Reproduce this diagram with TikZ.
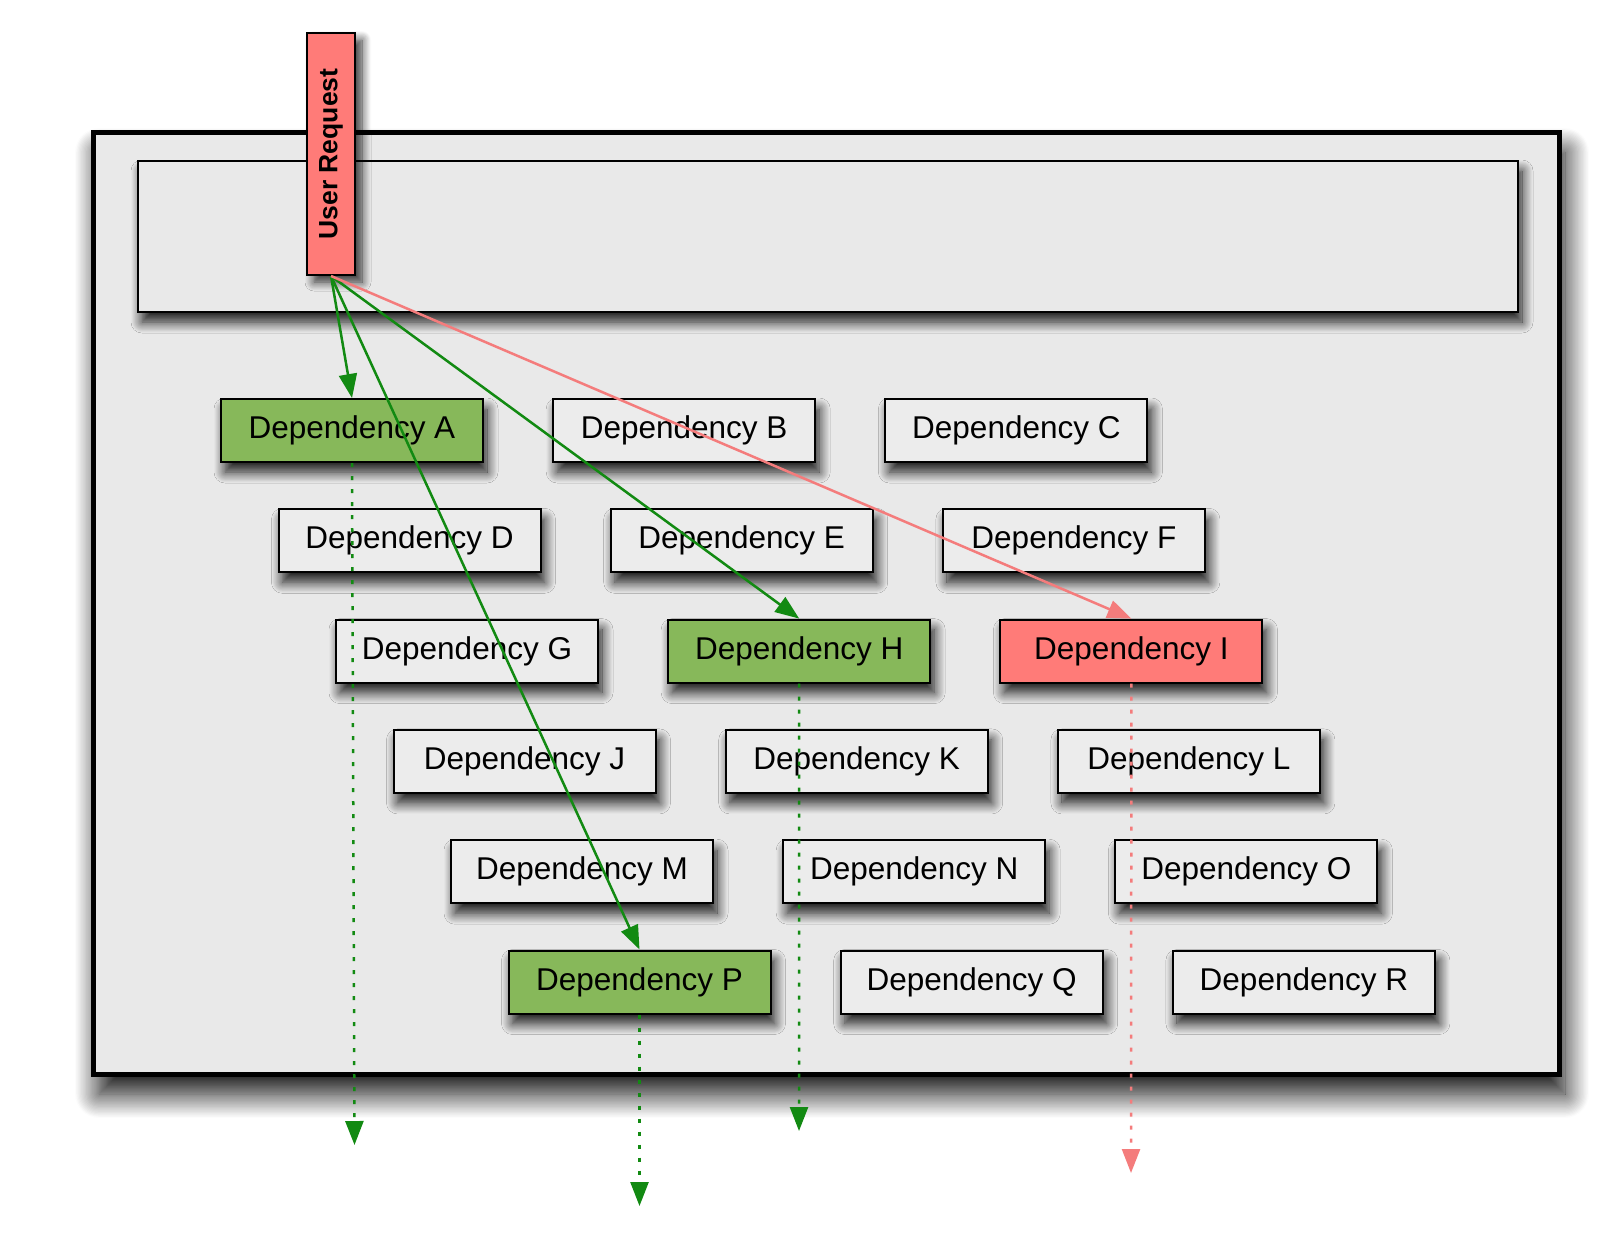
\documentclass[tikz,border=0pt]{standalone}
\usepackage{fontspec}
\setmainfont{Liberation Sans}
\usetikzlibrary{arrows.meta,shadows.blur}
\definecolor{boxgray}{HTML}{E9E9E9}
\definecolor{depgray}{HTML}{ECECEC}
\definecolor{okgreen}{HTML}{87B85A}
\definecolor{badred}{HTML}{FF7B78}
\definecolor{arrgreen}{HTML}{128A12}
\definecolor{arrred}{HTML}{F47C7C}
\tikzset{
  shad/.style={blur shadow={shadow xshift=4pt,shadow yshift=-10pt,shadow blur steps=14,shadow blur radius=11pt,shadow opacity=90}},
  dep/.style={draw=black,line width=2pt,fill=depgray,minimum width=262pt,minimum height=63pt,inner sep=0pt,font=\fontsize{31.5}{36}\selectfont,shad},
  okdep/.style={dep,fill=okgreen},
  baddep/.style={dep,fill=badred},
  gline/.style={draw=arrgreen,line width=2.5pt,-{Triangle[length=24pt,width=18pt]}},
  rline/.style={draw=arrred,line width=2.5pt,-{Triangle[length=24pt,width=18pt]}},
  gdot/.style={gline,dash pattern=on 4pt off 9pt},
  rdot/.style={rline,dash pattern=on 4pt off 9pt},
}
\begin{document}
\begin{tikzpicture}[x=1pt,y=-1pt]
\useasboundingbox (0,0) rectangle (1602,1242);
% outer container
\node[draw=black,line width=5pt,fill=boxgray,minimum width=1466pt,minimum height=942pt,inner sep=0pt,
  blur shadow={shadow xshift=6pt,shadow yshift=-20pt,shadow blur steps=20,shadow blur radius=24pt,shadow opacity=95}]
  (outer) at (826,603) {};
% inner band
\node[draw=black,line width=2pt,fill=boxgray,minimum width=1380pt,minimum height=151pt,inner sep=0pt,shad]
  (band) at (828,236.5) {};
% dependency boxes
\node[okdep] (A) at (352,430.5) {Dependency A};
\node[dep] (B) at (684.2,430.5) {Dependency B};
\node[dep] (C) at (1016.4,430.5) {Dependency C};
\node[dep] (D) at (409.5,540.8) {Dependency D};
\node[dep] (E) at (741.7,540.8) {Dependency E};
\node[dep] (F) at (1073.9,540.8) {Dependency F};
\node[dep] (G) at (467,651.1) {Dependency G};
\node[okdep] (H) at (799.2,651.1) {Dependency H};
\node[baddep] (I) at (1131.4,651.1) {Dependency I};
\node[dep] (J) at (524.5,761.4) {Dependency J};
\node[dep] (K) at (856.7,761.4) {Dependency K};
\node[dep] (L) at (1188.9,761.4) {Dependency L};
\node[dep] (M) at (582,871.7) {Dependency M};
\node[dep] (N) at (914.2,871.7) {Dependency N};
\node[dep] (O) at (1246.4,871.7) {Dependency O};
\node[okdep] (P) at (639.5,982) {Dependency P};
\node[dep] (Q) at (971.7,982) {Dependency Q};
\node[dep] (R) at (1303.9,982) {Dependency R};
% user request
\node[draw=black,line width=2pt,fill=badred,minimum width=48pt,minimum height=242pt,inner sep=0pt,
  blur shadow={shadow xshift=7pt,shadow yshift=-7pt,shadow blur steps=10,shadow blur radius=9pt,shadow opacity=80}]
  (UR) at (331,154) {};
\node[rotate=90,font=\fontsize{26.5}{30}\selectfont\bfseries] (URt) at (UR.center) {User Request};
% end points of the dotted continuations
\coordinate (Aend) at (354.5,1145);
\coordinate (Pend) at (639.5,1206);
\coordinate (Hend) at (799,1131);
\coordinate (Iend) at (1131,1173);
% connectors
\draw[gline] (UR.south) -- (A.north);
\draw[gline] (UR.south) -- (P.north);
\draw[gline] (UR.south) -- (H.north);
\draw[rline] (UR.south) -- (I.north);
\draw[gdot] (A.south) -- (Aend);
\draw[gdot] (P.south) -- (Pend);
\draw[gdot] (H.south) -- (Hend);
\draw[rdot] (I.south) -- (Iend);
\end{tikzpicture}
\end{document}
